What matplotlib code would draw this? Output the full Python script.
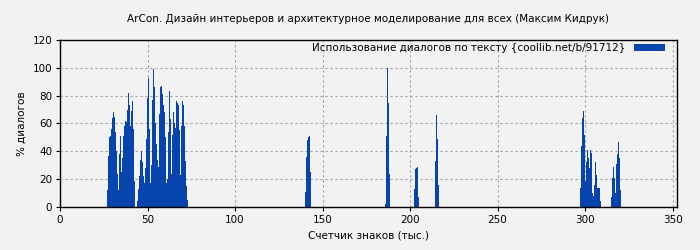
import numpy as np
import matplotlib.pyplot as plt

plt.rcParams.update({
    "font.family": ["DejaVu Sans"],
    "font.size": 7.5,
    "axes.linewidth": 1.0,
})

TITLE = "ArCon. Дизайн интерьеров и архитектурное моделирование для всех (Максим Кидрук)"
LEGEND = "Использование диалогов по тексту {coollib.net/b/91712}"
BAR_COLOR = "#0844ad"
STEP = 0.571  # тыс. знаков на один столбик

# начало каждого фрагмента (тыс. знаков) и значения (% диалогов)
starts = [27.0, 43.8, 140.0, 185.8, 202.2, 214.3, 297.0, 314.7]
values = [
    [12, 37, 50, 51, 56, 64, 68, 65, 54, 40, 24, 12, 38, 51, 25, 35, 51, 58,
     62, 61, 70, 82, 73, 58, 69, 76, 56, 19],
    [4, 13, 22, 34, 40, 32, 22, 17, 28, 49, 78, 93, 56, 17, 30, 77, 99, 86,
     60, 45, 34, 29, 67, 86, 87, 81, 73, 68, 50, 17, 20, 54, 83, 63, 24, 52,
     68, 60, 57, 76, 75, 73, 55, 23, 58, 76, 73, 58, 33, 15, 5],
    [11, 36, 48, 50, 51, 25],
    [2, 51, 100, 75, 24],
    [13, 27, 28, 29, 7],
    [33, 66, 49, 16],
    [14, 44, 64, 69, 52, 19, 32, 41, 35, 28, 41, 39, 10, 8, 16, 32, 23, 14,
     14, 14, 4],
    [7, 21, 29, 21, 10, 31, 38, 47, 35, 12],
]

x = np.concatenate([s + STEP * np.arange(len(v)) for s, v in zip(starts, values)])
y = np.concatenate([np.array(v, dtype=float) for v in values])

fig = plt.figure(figsize=(7, 2.5), dpi=100, facecolor="#f2f2f2")
ax = fig.add_axes([0.0857, 0.172, 0.881, 0.668], facecolor="#f2f2f2")

ax.bar(x, y, width=STEP, align="edge", color=BAR_COLOR, linewidth=0,
       label=LEGEND)

ax.set_xlim(0, 352.3)
ax.set_ylim(0, 120)
ax.set_xticks(np.arange(0, 351, 50))
ax.set_yticks(np.arange(0, 121, 20))
ax.grid(True, color="#a0a0a0", linestyle=(0, (2, 2.5)), linewidth=0.8)
ax.set_axisbelow(True)
ax.tick_params(length=3, color="#000000", pad=2.5)

ax.set_title(TITLE, fontsize=7.5, pad=13)
ax.set_xlabel("Счетчик знаков (тыс.)")
ax.set_ylabel("% диалогов")

ax.legend(loc="upper right", bbox_to_anchor=(0.993, 1.025), frameon=False,
          markerfirst=False, handlelength=3.0, handleheight=0.6,
          borderaxespad=0.5, borderpad=0.2)

fig.savefig("out.png", dpi=100, facecolor=fig.get_facecolor())
